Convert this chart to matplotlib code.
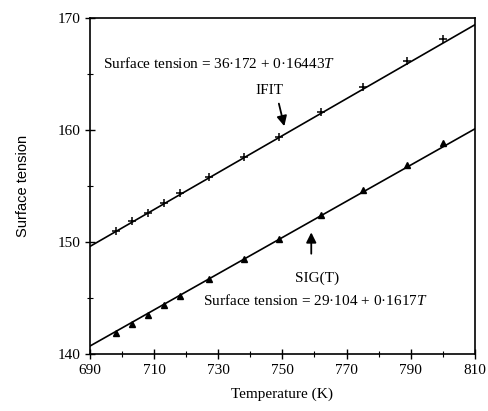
import matplotlib
matplotlib.use("Agg")
import matplotlib.pyplot as plt
from matplotlib.ticker import FixedLocator

plt.rcParams['mathtext.fontset'] = 'custom'
plt.rcParams['mathtext.rm'] = 'Liberation Serif'
plt.rcParams['mathtext.it'] = 'Liberation Serif:italic'

# IFIT data points
ifit_T = [698, 703, 708, 713, 718, 727, 738, 749, 762, 775, 789, 800]
ifit_S = [151.0, 151.9, 152.6, 153.5, 154.35, 155.8, 157.6, 159.4, 161.6, 163.8, 166.2, 168.1]
# SIG(T) data points
sig_T = [698, 703, 708, 713, 718, 727, 738, 749, 762, 775, 789, 800]
sig_S = [141.9, 142.7, 143.5, 144.35, 145.2, 146.7, 148.5, 150.3, 152.4, 154.6, 156.9, 158.8]
# fitted lines (endpoints)
fit_T = [690, 810]
ifit_fit = [149.6, 169.4]
sig_fit = [140.7, 160.1]

x_major = [690, 710, 730, 750, 770, 790, 810]
x_minor = [700, 720, 740, 760, 780, 800]
y_major = [140, 150, 160, 170]
y_minor = [145, 155, 165]

serif = 'Liberation Serif'
fig = plt.figure(figsize=(4.89, 4.11), dpi=100)
ax = fig.add_axes([0.184, 0.139, 0.787, 0.817])

ax.plot(fit_T, ifit_fit, color='black', lw=1.2)
ax.plot(fit_T, sig_fit, color='black', lw=1.2)
ax.plot(ifit_T, ifit_S, linestyle='none', marker='+', ms=6, mew=1.1, color='black')
ax.plot(sig_T, sig_S, linestyle='none', marker='^', ms=4.5, color='black')

ax.set_xlim(690, 810)
ax.set_ylim(140, 170)
ax.xaxis.set_major_locator(FixedLocator(x_major))
ax.xaxis.set_minor_locator(FixedLocator(x_minor))
ax.yaxis.set_major_locator(FixedLocator(y_major))
ax.yaxis.set_minor_locator(FixedLocator(y_minor))
ax.tick_params(which='major', direction='inout', length=7, width=1.0, labelsize=11)
ax.tick_params(which='minor', direction='inout', length=4, width=0.8)
for lab in ax.get_xticklabels() + ax.get_yticklabels():
    lab.set_fontfamily(serif)
for s in ax.spines.values():
    s.set_linewidth(1.2)

ax.set_xlabel('Temperature (K)', fontfamily=serif, fontsize=11, labelpad=8)
ax.set_ylabel('Surface tension', fontfamily='Liberation Sans', fontsize=10.5, labelpad=20)

ax.text(694.2, 165.9, 'Surface tension = 36·172 + 0·16443$\\mathit{T}$',
        fontfamily=serif, fontsize=11, va='center', ha='left')
ax.text(745.8, 163.5, 'IFIT', fontfamily=serif, fontsize=11, ha='center', va='center')
ax.annotate('', xy=(750.8, 160.1), xytext=(748.7, 162.6),
            arrowprops=dict(arrowstyle='-|>,head_length=0.6,head_width=0.3', color='black', lw=1.3))
ax.text(760.9, 146.8, 'SIG(T)', fontfamily=serif, fontsize=11, ha='center', va='center')
ax.annotate('', xy=(759.0, 151.1), xytext=(759.0, 148.7),
            arrowprops=dict(arrowstyle='-|>,head_length=0.6,head_width=0.3', color='black', lw=1.3))
ax.text(725.1, 144.8, 'Surface tension = 29·104 + 0·1617$\\mathit{T}$',
        fontfamily=serif, fontsize=11, va='center', ha='left')

fig.savefig('out.png', dpi=100)
